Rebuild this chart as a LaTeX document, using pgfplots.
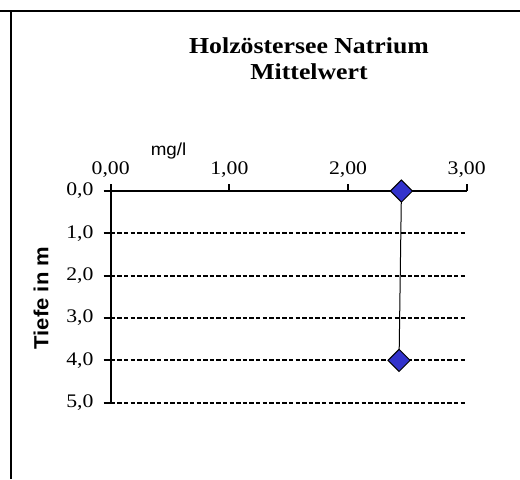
\documentclass[border=0pt]{standalone}
\usepackage{fontspec}
\setmainfont{Liberation Serif}[FakeStretch=1.13]
\newfontfamily\labelfont{Liberation Sans}[FakeStretch=1.08]
\usepackage{pgfplots}
\pgfplotsset{compat=1.18}
\definecolor{markblue}{HTML}{3333CC}

\begin{document}
\begin{tikzpicture}[x=1pt,y=1pt]
\useasboundingbox (0,0) rectangle (260,239.5);
% cell border
\draw[line width=1pt] (0,234) -- (260,234);
\draw[line width=1pt] (5.5,234) -- (5.5,0);
\node[anchor=base,font=\bfseries\fontsize{11.4}{13}\selectfont] at (154.5,212.85) {Holzöstersee Natrium};
\node[anchor=base,font=\bfseries\fontsize{11.4}{13}\selectfont] at (154.5,199.85) {Mittelwert};
\node[anchor=base,font=\labelfont\fontsize{8.7}{10}\selectfont] at (84.25,162) {mg/l};
\node[rotate=90,font=\labelfont\bfseries\fontsize{10.2}{12}\selectfont] at (20.5,90.5) {Tiefe in m};
\begin{axis}[
  at={(55.35pt,38.15pt)},anchor=south west,
  scale only axis,width=178pt,height=105.85pt,
  xmin=0,xmax=3,ymin=0,ymax=5,y dir=reverse,
  axis x line*=top,axis y line*=left,
  axis line style={line width=1pt,-},
  xtick={0,1,2,3},ytick={0,1,2,3,4,5},
  tick align=outside,major tick length=3.5pt,
  every tick/.style={black,line width=1pt},
  ymajorgrids,grid style={black,line width=1pt,dash pattern=on 2.2pt off 1.1pt},
  /pgf/number format/assume math mode=true,
  xticklabel style={/pgf/number format/fixed,/pgf/number format/fixed zerofill,
    /pgf/number format/precision=2,/pgf/number format/use comma},
  yticklabel style={/pgf/number format/fixed,/pgf/number format/fixed zerofill,
    /pgf/number format/precision=1,/pgf/number format/use comma,xshift=-1.6pt},
  tick label style={font=\fontsize{9.6}{11}\selectfont},
  clip=false]
  \addplot[black,line width=0.5pt,mark=square*,mark size=3.9pt,
    mark options={fill=markblue,draw=black,line width=0.5pt,rotate=45}]
    coordinates {(2.45,0) (2.43,4)};
\end{axis}
\end{tikzpicture}
\end{document}
